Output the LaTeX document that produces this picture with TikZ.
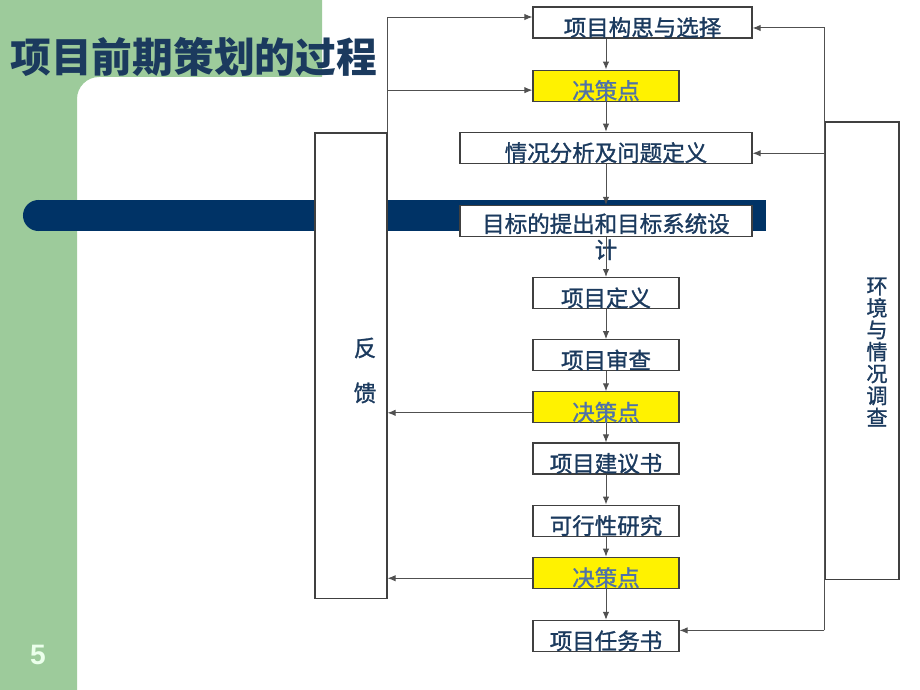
\documentclass[tikz,border=0pt]{standalone}
\usepackage{fontspec}
\setmainfont{Noto Sans CJK SC}
\newfontfamily\boxfont{Noto Sans CJK SC}[FakeBold=1.2]
\newfontfamily\numfont{Liberation Sans}
\usepackage{tikz}
\usetikzlibrary{arrows.meta,positioning}
\usepackage{xcolor}
\definecolor{SlideGreen}{HTML}{9DCB9B}
\definecolor{SlideNavy}{HTML}{003366}
\definecolor{TitleBlue}{HTML}{1B3A5E}
\definecolor{DecText}{HTML}{4F72A8}
\definecolor{BoxLine}{HTML}{404040}
\definecolor{FlowGray}{HTML}{505050}

\begin{document}
\begin{tikzpicture}[x=0.025cm, y=-0.025cm,
  box/.style={draw=BoxLine,line width=0.8pt,fill=white,minimum height=0.775cm,inner sep=0pt,
    text height=19.2pt,text depth=0pt,text=TitleBlue,font=\boxfont\fontsize{16}{19}\selectfont},
  decbox/.style={box,fill=yellow,text=DecText,minimum width=3.65cm},
  flow/.style={-{Latex[length=2mm,width=1.6mm]},line width=0.7pt,FlowGray}]
  \useasboundingbox (0,0) rectangle (920,690);
  % slide background
  \fill[SlideGreen] (0,0) -- (322,0) -- (322,77) [rounded corners=0.55cm]-- (77,77) [sharp corners]-- (77,690) -- (0,690) -- cycle;
  \fill[SlideNavy] (38.5,215.5) circle (0.3875cm);
  \fill[SlideNavy] (38.5,200) rectangle (766,231);
  \node[font=\fontsize{29}{30}\selectfont\bfseries,text=TitleBlue,anchor=west,inner sep=0pt] (title) at (10,57) {项目前期策划的过程};
  \node[font=\numfont\fontsize{20}{20}\selectfont\bfseries,text=white!92!green] (page) at (38,655) {5};
  % main chain
  \node[box,minimum width=5.475cm] (idea) at (642.5,22.5) {项目构思与选择};
  \node[decbox,below=0.775cm of idea.south west,anchor=north west] (dp1) {决策点};
  \node[box,minimum width=7.3cm,below=0.75cm of dp1] (sit) {情况分析及问题定义};
  \node[box,minimum width=7.3cm,below=1.025cm of sit] (goal) {};
  \node[text=TitleBlue,font=\boxfont\fontsize{16}{18.5}\selectfont,align=center,inner sep=0pt,anchor=north] (goaltext) at (606,213) {目标的提出和目标系统设\\计};
  \node[box,minimum width=3.65cm,below=1.0cm of goal] (def) {项目定义};
  \node[box,minimum width=3.65cm,below=0.75cm of def] (rev) {项目审查};
  \node[decbox,below=0.5cm of rev] (dp2) {决策点};
  \node[box,minimum width=3.65cm,below=0.475cm of dp2] (prop) {项目建议书};
  \node[box,minimum width=3.65cm,below=0.75cm of prop] (feas) {可行性研究};
  \node[decbox,below=0.5cm of feas] (dp3) {决策点};
  \node[box,minimum width=3.65cm,below=0.775cm of dp3] (task) {项目任务书};
  \draw[flow] (idea.south -| dp1.north) -- (dp1.north);
  \draw[flow] (dp1.south) -- (sit.north);
  \draw[flow] (sit.south) -- (goal.north);
  \draw[flow] (goal.south) -- (def.north);
  \draw[flow] (def.south) -- (rev.north);
  \draw[flow] (rev.south) -- (dp2.north);
  \draw[flow] (dp2.south) -- (prop.north);
  \draw[flow] (prop.south) -- (feas.north);
  \draw[flow] (feas.south) -- (dp3.north);
  \draw[flow] (dp3.south) -- (task.north);
  % feedback
  \node[draw=BoxLine,line width=0.8pt,fill=white,minimum width=1.8cm,minimum height=11.625cm,inner sep=0pt] (fb) at (351,365.5) {};
  \node[text=TitleBlue,font=\boxfont\fontsize{16}{32}\selectfont,align=center,inner sep=0pt] (fbtext) at (365,370.5) {反\\馈};
  \coordinate (fbtop) at ([yshift=3.9pt]idea.west -| fb.east);
  \draw[flow] (fb.north east) -- (fbtop) -- ([yshift=3.9pt]idea.west);
  \draw[flow] ([yshift=-3.2pt]dp1.west -| fb.east) -- ([yshift=-3.2pt]dp1.west);
  \draw[flow] ([yshift=-3.9pt]dp2.west) -- ([yshift=-3.9pt]dp2.west -| fb.east);
  \draw[flow] ([yshift=-3.9pt]dp3.west) -- ([yshift=-3.9pt]dp3.west -| fb.east);
  % environment survey
  \node[draw=BoxLine,line width=0.8pt,minimum width=1.85cm,minimum height=11.425cm,inner sep=0pt] (env) at (862,350.5) {};
  \node[text=TitleBlue,font=\boxfont\fontsize{15}{15.6}\selectfont,align=center,inner sep=0pt] (envtext) at (877,352) {环\\境\\与\\情\\况\\调\\查};
  \coordinate (envtop) at ([yshift=-3.9pt]idea.east -| env.west);
  \coordinate (envbot) at ([yshift=3.9pt]task.east -| env.west);
  \draw[flow] (envbot) -- (envtop) -- ([yshift=-3.9pt]idea.east);
  \draw[flow] ([yshift=-3.9pt]sit.east -| env.west) -- ([yshift=-3.9pt]sit.east);
  \draw[flow] (envbot) -- ([yshift=3.9pt]task.east);
\end{tikzpicture}
\end{document}
